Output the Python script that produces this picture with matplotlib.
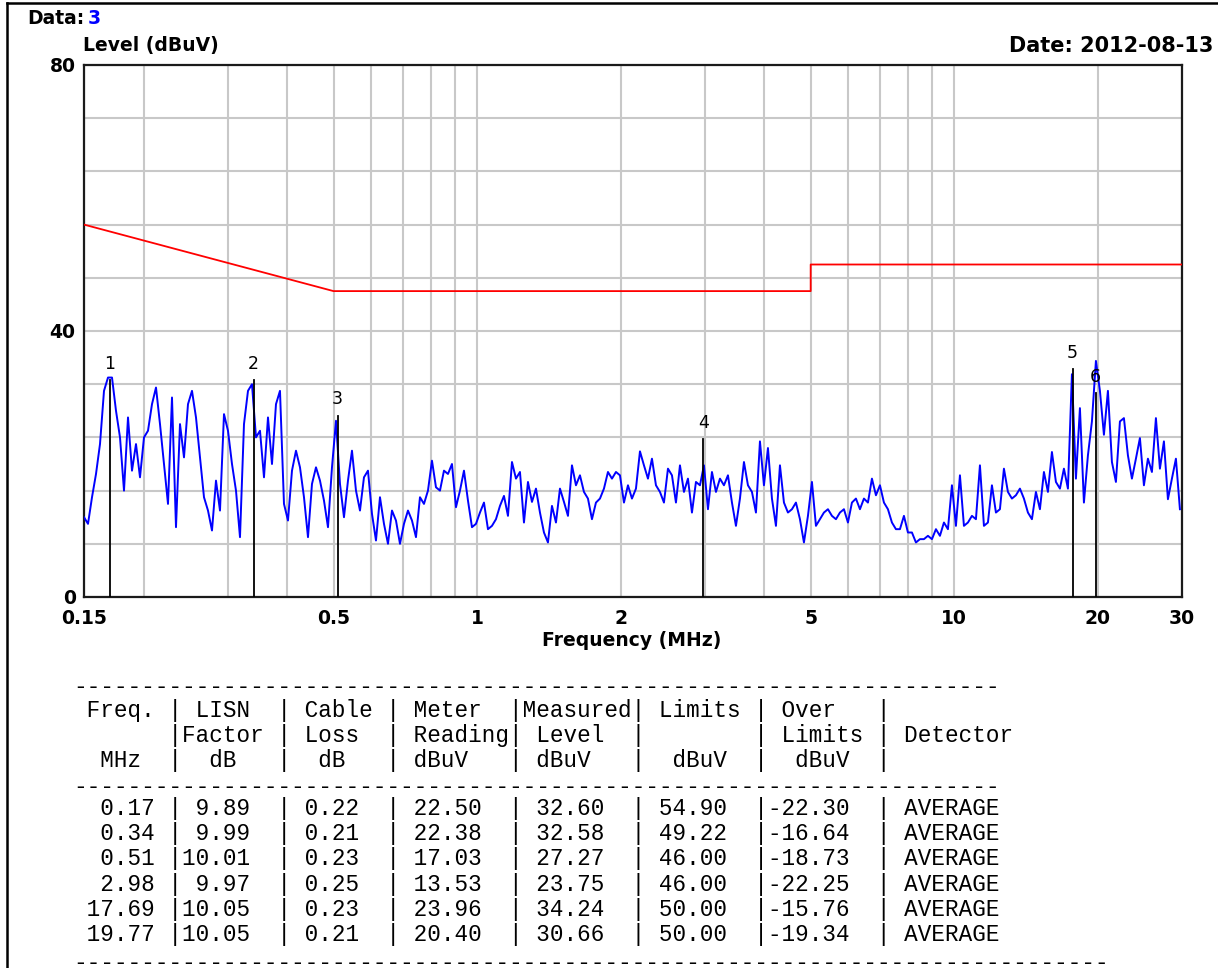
import numpy as np
import matplotlib
matplotlib.use("Agg")
import matplotlib.pyplot as plt
from matplotlib.lines import Line2D

# ---------------- data ----------------
# measured trace (dBuV), swept 0.15 .. ~29.7 MHz
level_a = [12, 11, 15, 18.5, 23, 31, 33, 33, 28, 24, 16, 27, 19, 23, 18, 24, 25, 29, 31.5, 26,
           20, 14, 30, 10.5, 26, 21, 29, 31, 27, 21, 15, 13, 10, 17.5, 13, 27.5, 25, 20, 16, 9,
           26, 31, 32, 24, 25, 18, 27, 20, 29, 31, 14]
level_b = [11.5, 19, 22, 19.5, 15, 9, 17, 19.5, 17.5, 14.5, 10.5, 19.5, 26.5, 17, 12, 17.5, 22, 16,
           13, 18, 19, 12.5, 8.5, 15, 11, 8, 13, 11.5, 8, 11, 13, 11.5, 9, 15, 14, 16, 20.5, 16.5,
           16, 19, 18.5, 20, 13.5, 16, 19, 14.5, 10.5, 11]
level_c = [12.7, 14.2, 10.2, 10.7, 11.7, 13.7, 15.2, 12.2, 20.3, 17.8, 18.8, 11.2, 17.3, 14.3, 16.3,
           12.7, 9.7, 8.2, 13.7, 11.2, 16.3, 14.3, 12.2, 19.8, 16.8, 18.3, 15.8, 14.8, 11.7, 14.2,
           14.8, 16.3, 18.8, 17.8, 18.8, 18.3, 14.2, 16.8, 14.8, 16.3, 21.9, 19.8, 17.8, 20.8, 16.8,
           15.8, 14.2, 19.3]
level_d = [18.3, 14.2, 19.8, 15.8, 17.8, 12.7, 17.3, 16.8, 19.8, 13.2, 18.8, 15.8, 17.8, 16.8, 18.3,
           14.2, 10.7, 14.8, 20.3, 16.8, 15.8, 12.7, 23.4, 16.8, 22.4, 14.8, 10.7, 19.8, 14.2, 12.7,
           13.2, 14.2, 11.7, 8.2, 12.2, 17.3, 10.7, 11.7, 12.7, 13.2, 12.2, 11.7, 12.7, 13.2, 11.2,
           14.2, 14.8]
level_e = [13.2, 14.8, 14.2, 17.8, 15.3, 16.8, 14.2, 13.2, 11.2, 10.2, 10.2, 12.2, 9.7, 9.7, 8.2,
           8.7, 8.7, 9.2, 8.7, 10.2, 9.2, 11.2, 10.2, 16.8, 10.7, 18.3, 10.7, 11.2, 12.2, 11.7,
           19.8, 10.7, 11.2, 16.8, 12.7, 13.2, 19.3, 15.8, 14.8, 15.3, 16.3, 14.8, 12.7]
level_f = [11.7, 15.8, 13.2, 18.8, 15.8, 21.8, 17.3, 16.3, 19.3, 16.3, 33.5, 17.8, 28.4, 14.2, 21.3,
           26.4, 35.5, 31, 24.4, 31, 20.3, 17.3, 26.4, 26.9, 21.3, 17.8, 20.8, 23.9, 16.8, 20.8,
           18.8, 26.9, 19.3, 23.4, 14.7, 17.8, 20.8, 13.2]
trace_level = level_a + level_b + level_c + level_d + level_e + level_f
trace_freq = np.geomspace(0.15, 29.7, len(trace_level))

# limit line
limit_freq = [0.15, 0.5, 5.0, 5.0, 30.0]
limit_level = [56.0, 46.0, 46.0, 50.0, 50.0]

# marker / table data
mk_freq = [0.17, 0.34, 0.51, 2.98, 17.69, 19.77]
mk_lisn = [9.89, 9.99, 10.01, 9.97, 10.05, 10.05]
mk_cable = [0.22, 0.21, 0.23, 0.25, 0.23, 0.21]
mk_meter = [22.50, 22.38, 17.03, 13.53, 23.96, 20.40]
mk_level = [32.60, 32.58, 27.27, 23.75, 34.24, 30.66]
mk_limit = [54.90, 49.22, 46.00, 46.00, 50.00, 50.00]
mk_over = [-22.30, -16.64, -18.73, -22.25, -15.76, -19.34]
mk_detector = ["AVERAGE"] * 6

xtick_vals = [0.15, 0.5, 1, 2, 5, 10, 20, 30]
xtick_labels = ["0.15", "0.5", "1", "2", "5", "10", "20", "30"]
ytick_vals = [0, 40, 80]

# ---------------- figure ----------------
W, H = 1218, 968
fig = plt.figure(figsize=(W / 100, H / 100), dpi=100)
fig.patch.set_facecolor("white")

def fx(px):
    return px / W

def fy(py):
    return 1 - py / H

ax = fig.add_axes([fx(84), fy(597), fx(1182) - fx(84), fy(65) - fy(597)])
ax.set_xscale("log")
ax.set_xlim(0.15, 30)
ax.set_ylim(0, 80)

minor_x = [0.2, 0.3, 0.4, 0.6, 0.7, 0.8, 0.9, 3, 4, 6, 7, 8, 9]
ax.set_xticks(xtick_vals)
ax.set_xticklabels(xtick_labels)
ax.set_xticks(minor_x, minor=True)
ax.set_xticklabels([], minor=True)
ax.set_yticks(ytick_vals)
ax.set_yticks([8, 16, 24, 32, 48, 56, 64, 72], minor=True)
ax.tick_params(which="both", length=0)
ax.tick_params(axis="x", pad=9)
ax.tick_params(axis="y", pad=6)
for lab in ax.get_xticklabels() + ax.get_yticklabels():
    lab.set_fontweight("bold")
    lab.set_fontsize(13.5)
    lab.set_family("DejaVu Sans")
ax.grid(True, which="both", color="#c8c8c8", linewidth=1.5)
ax.set_axisbelow(True)
for s in ax.spines.values():
    s.set_color("#1a1a1a")
    s.set_linewidth(1.6)

ax.plot(limit_freq, limit_level, color="#ff0000", linewidth=1.3, zorder=3)
ax.plot(trace_freq, trace_level, color="#0000ff", linewidth=1.4, zorder=4)

for i, (f, lv) in enumerate(zip(mk_freq, mk_level)):
    ax.plot([f, f], [0, lv], color="black", linewidth=1.3, zorder=5)
    ax.text(f, lv + 1.1, str(i + 1), ha="center", va="bottom", fontsize=12.5,
            color="black", family="DejaVu Sans", zorder=6)

fig.text(fx(632), fy(641), "Frequency (MHz)", ha="center", va="center",
         fontsize=13.5, fontweight="bold", family="DejaVu Sans")

# headers
fig.text(fx(27), fy(19), "Data:", ha="left", va="center", fontsize=13.5, fontweight="bold",
         family="DejaVu Sans")
fig.text(fx(88), fy(19), "3", ha="left", va="center", fontsize=13.5, fontweight="bold",
         color="#0000ff", family="DejaVu Sans")
fig.text(fx(83), fy(46), "Level (dBuV)", ha="left", va="center", fontsize=13.5,
         fontweight="bold", family="DejaVu Sans")
fig.text(fx(1213), fy(46), "Date: 2012-08-13", ha="right", va="center", fontsize=15,
         fontweight="bold", family="DejaVu Sans")

# border around the report
for (x0, y0, x1, y1) in [(7, 3, 1218, 3), (7, 3, 7, 968)]:
    fig.add_artist(Line2D([fx(x0), fx(x1)], [fy(y0), fy(y1)], color="black", linewidth=1.8))

# ---------------- table ----------------
mono = dict(family="Liberation Mono", fontsize=16.3, ha="left", va="center", color="black")
tx = fx(73)
dash = "-" * 68
hdr = [
    " Freq. | LISN  | Cable | Meter  |Measured| Limits | Over   |",
    "       |Factor | Loss  | Reading| Level  |        | Limits | Detector",
    "  MHz  |  dB   |  dB   | dBuV   | dBuV   |  dBuV  |  dBuV  |",
]
fig.text(tx, fy(686), dash, **mono)
for j, line in enumerate(hdr):
    fig.text(tx, fy(710 + 25.3 * j), line, **mono)
fig.text(tx, fy(786), dash, **mono)
for j in range(len(mk_freq)):
    row = (f"{mk_freq[j]:6.2f} |{mk_lisn[j]:5.2f}  | {mk_cable[j]:4.2f}  | {mk_meter[j]:5.2f}  "
           f"| {mk_level[j]:5.2f}  | {mk_limit[j]:5.2f}  |{mk_over[j]:6.2f}  | {mk_detector[j]}")
    fig.text(tx, fy(808 + 25.4 * j), row, **mono)
fig.text(tx, fy(962), "-" * 76, **mono)

fig.savefig("out.png", dpi=100)
